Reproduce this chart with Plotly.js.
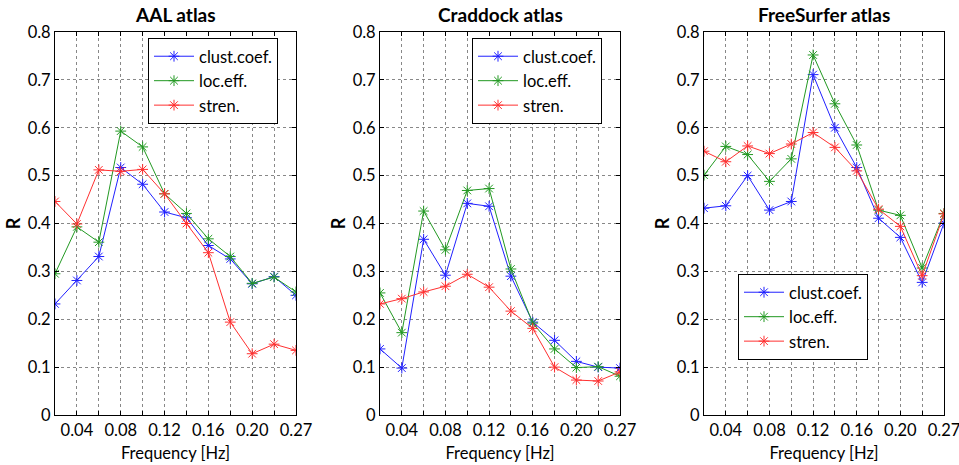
<!DOCTYPE html>
<html><head><meta charset="utf-8">
<script src="https://cdn.plot.ly/plotly-3.0.1.min.js"></script>
<style>html,body{margin:0;padding:0;background:#fff}#c{width:959px;height:465px}</style>
</head><body><div id="c"></div>
<script>
const freqIdx = [1,2,3,4,5,6,7,8,9,10,11,12];
const tickLabels = ['', '0.04', '', '0.08', '', '0.12', '', '0.16', '', '0.20', '', '0.27'];
const seriesNames = ['clust.coef.', 'loc.eff.', 'stren.'];
const panelTitles = ['AAL atlas', 'Craddock atlas', 'FreeSurfer atlas'];

const aalClust = [0.232,0.281,0.331,0.517,0.482,0.424,0.412,0.354,0.326,0.274,0.289,0.250];
const aalLoc   = [0.295,0.393,0.361,0.593,0.560,0.462,0.421,0.368,0.331,0.275,0.288,0.257];
const aalStren = [0.446,0.399,0.512,0.509,0.513,0.462,0.400,0.339,0.194,0.128,0.148,0.135];

const crClust = [0.138,0.098,0.367,0.292,0.442,0.436,0.290,0.194,0.156,0.112,0.100,0.098];
const crLoc   = [0.255,0.172,0.426,0.345,0.469,0.473,0.305,0.192,0.138,0.099,0.101,0.081];
const crStren = [0.232,0.243,0.257,0.269,0.294,0.267,0.217,0.181,0.100,0.073,0.071,0.090];

const fsClust = [0.432,0.437,0.500,0.428,0.446,0.711,0.600,0.517,0.411,0.371,0.277,0.401];
const fsLoc   = [0.501,0.561,0.544,0.488,0.535,0.752,0.650,0.564,0.428,0.417,0.307,0.421];
const fsStren = [0.551,0.529,0.562,0.546,0.566,0.590,0.559,0.510,0.430,0.394,0.291,0.420];

const colors = ['#2020ff', '#229922', '#ff3030'];
const panels = [[aalClust, aalLoc, aalStren], [crClust, crLoc, crStren], [fsClust, fsLoc, fsStren]];
const font = 'Lato, "DejaVu Sans", sans-serif';

const W = 959, H = 465;
const xDom = [[55,296],[380,620],[704,944]];
const yDom = [(H-415)/H, (H-32)/H];

const traces = [];
panels.forEach((p, pi) => {
  p.forEach((vals, si) => {
    traces.push({
      x: freqIdx, y: vals, type: 'scatter', mode: 'lines+markers',
      name: seriesNames[si],
      xaxis: pi === 0 ? 'x' : 'x' + (pi+1),
      yaxis: pi === 0 ? 'y' : 'y' + (pi+1),
      legend: pi === 0 ? 'legend' : 'legend' + (pi+1),
      line: {color: colors[si], width: 1},
      marker: {symbol: 'asterisk-open', size: 9, color: colors[si], line: {color: colors[si], width: 1}}
    });
  });
});

const layout = {
  width: W, height: H,
  margin: {l: 0, r: 0, t: 0, b: 0},
  paper_bgcolor: '#fff', plot_bgcolor: '#fff',
  font: {family: font, size: 14, color: '#000'},
  annotations: [],
  showlegend: true
};

const legendBoxes = [
  {x: 148, y: 38},
  {x: 472, y: 38},
  {x: 738, y: 274}
];

xDom.forEach((d, i) => {
  const sfx = i === 0 ? '' : String(i+1);
  layout['xaxis' + sfx] = {
    domain: [d[0]/W, d[1]/W], range: [1, 12],
    tickmode: 'array', tickvals: freqIdx, ticktext: tickLabels,
    showgrid: true, gridcolor: '#888', griddash: 'dot', gridwidth: 1,
    showline: true, linecolor: '#000', linewidth: 1, mirror: 'ticks',
    ticks: 'inside', ticklen: 4, tickcolor: '#000',
    zeroline: false, anchor: 'y' + sfx, fixedrange: true,
    ticklabeloverflow: 'allow',
    tickfont: {family: font, size: 16.5},
    title: {text: 'Frequency [Hz]', font: {family: font, size: 16.5}, standoff: 8}
  };
  layout['yaxis' + sfx] = {
    domain: yDom, range: [0, 0.8], dtick: 0.1, tick0: 0,
    showgrid: true, gridcolor: '#888', griddash: 'dot', gridwidth: 1,
    showline: true, linecolor: '#000', linewidth: 1, mirror: 'ticks',
    ticks: 'inside', ticklen: 4, tickcolor: '#000',
    zeroline: false, anchor: 'x' + sfx, fixedrange: true,
    tickfont: {family: font, size: 16.5},
    title: {text: '<b>R</b>', font: {family: font, size: 18}, standoff: 2}
  };
  layout['legend' + sfx] = {
    x: legendBoxes[i].x / W, y: 1 - legendBoxes[i].y / H,
    xanchor: 'left', yanchor: 'top',
    bgcolor: '#fff', bordercolor: '#000', borderwidth: 1,
    font: {family: font, size: 16.5}, tracegroupgap: 0, itemwidth: 40
  };
  layout.annotations.push({
    text: '<b>' + panelTitles[i] + '</b>', xref: 'paper', yref: 'paper',
    x: (d[0] + d[1]) / 2 / W, y: 1 - 14 / H, xanchor: 'center', yanchor: 'middle',
    showarrow: false, font: {family: font, size: 19}
  });
});

Plotly.newPlot('c', traces, layout, {staticPlot: true, displayModeBar: false});
</script>
</body></html>
